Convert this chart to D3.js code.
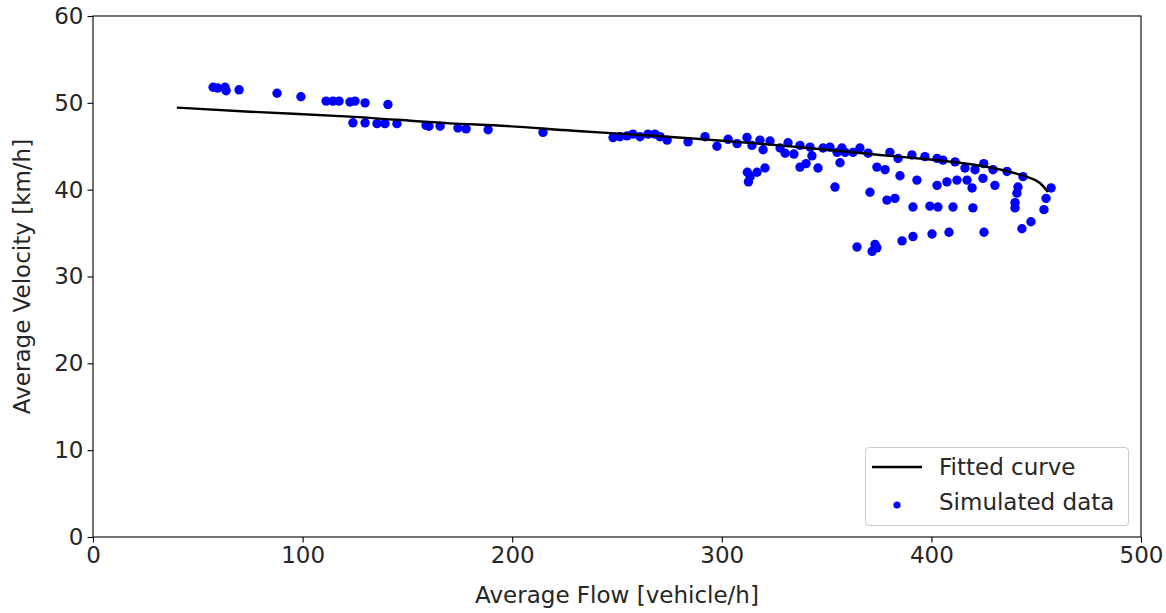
<!DOCTYPE html>
<html>
<head>
<meta charset="utf-8">
<script src="https://cdn.jsdelivr.net/npm/d3@7"></script>
<style>
  body { margin: 0; background: #fff; }
  svg { display: block; font-family: "DejaVu Sans", sans-serif; }
</style>
</head>
<body>
<svg id="chart" width="1166" height="613"></svg>
<script>
// ---- data ----
const xTicks = [0, 100, 200, 300, 400, 500];
const yTicks = [0, 10, 20, 30, 40, 50, 60];
const xLabel = "Average Flow [vehicle/h]";
const yLabel = "Average Velocity [km/h]";
const legendLabels = ["Fitted curve", "Simulated data"];

// fitted curve
const curveFlow = [40, 74.9, 122.6, 170.3, 197.4, 229, 261, 289.6, 327.8, 350, 375.5, 397.9, 415, 429.4, 437.5, 445.6, 451.8, 455.6];
const curveVel  = [49.45, 48.98, 48.41, 47.64, 47.33, 46.79, 46.30, 45.84, 45.1, 44.6, 44.0, 43.5, 43.05, 42.5, 42.05, 41.46, 40.77, 39.73];

// simulated data
const dataFlow = [
  57.3, 59.5, 63.0, 63.5, 69.7, 87.8, 99.2, 111.2, 114.5, 117.4, 122.6, 125.0, 129.8, 140.7,
  124.0, 129.8, 135.5, 139.3, 145.0, 158.9, 160.3, 165.6, 174.1, 178.0, 188.5, 214.7,
  248.1, 251.4, 254.8, 257.6, 261.0, 264.8, 268.1, 270.5, 273.9, 283.9, 292.0, 297.7, 303.0, 307.3,
  312.0, 314.4, 318.2, 319.7, 323.0, 327.8, 331.6, 330.2, 334.4, 337.3, 342.1, 343.0, 348.3, 351.6,
  355.0, 357.3, 358.8, 362.6, 365.9, 369.8, 380.2, 384.1, 390.7, 396.9, 402.7, 405.5, 411.3, 416.0,
  420.8, 425.0, 429.4, 436.1, 443.7,
  312.2, 313.5, 312.7, 316.8, 320.6, 337.3, 340.2, 345.9, 356.4, 374.0, 377.9, 385.0, 393.1, 402.7,
  407.4, 412.2, 417.0, 419.4, 424.6, 430.3, 441.3, 440.8, 457.1,
  354.0, 370.7, 378.8, 382.6, 391.2, 399.3, 403.1, 410.3, 419.8, 439.9, 439.9, 453.7, 454.7,
  364.5, 371.7, 373.1, 374.0, 386.0, 391.2, 400.3, 408.4, 425.1, 443.2, 447.5
];
const dataVel = [
  51.8, 51.7, 51.8, 51.4, 51.5, 51.1, 50.7, 50.2, 50.2, 50.2, 50.1, 50.2, 50.0, 49.8,
  47.7, 47.7, 47.6, 47.6, 47.6, 47.4, 47.3, 47.3, 47.1, 47.0, 46.9, 46.6,
  46.0, 46.1, 46.2, 46.4, 46.1, 46.4, 46.4, 46.1, 45.7, 45.5, 46.1, 45.0, 45.8, 45.3,
  46.0, 45.1, 45.7, 44.6, 45.6, 44.8, 45.4, 44.2, 44.1, 45.1, 44.9, 43.9, 44.8, 44.9,
  44.3, 44.8, 44.3, 44.3, 44.8, 44.2, 44.3, 43.6, 44.0, 43.8, 43.6, 43.4, 43.2, 42.5,
  42.3, 43.0, 42.3, 42.1, 41.5,
  42.0, 41.5, 40.9, 42.0, 42.5, 42.6, 43.0, 42.5, 43.1, 42.6, 42.3, 41.6, 41.1, 40.5,
  40.9, 41.1, 41.1, 40.2, 41.3, 40.5, 40.3, 39.6, 40.2,
  40.3, 39.7, 38.8, 39.0, 38.0, 38.1, 38.0, 38.0, 37.9, 38.5, 37.9, 37.7, 39.0,
  33.4, 32.9, 33.7, 33.3, 34.1, 34.6, 34.9, 35.1, 35.1, 35.5, 36.3
];

// ---- chart ----
(function () {
const svg = d3.select("#chart");
const mLeft = 93, mRight = 1141, mTop = 16, mBottom = 537;
const x = d3.scaleLinear().domain([0, 500]).range([mLeft, mRight]);
const y = d3.scaleLinear().domain([0, 60]).range([mBottom, mTop]);
const textColor = "#262626";
const fs = 23;

// scatter
const pts = dataFlow.map((f, i) => ({f, v: dataVel[i]}));
svg.append("g").selectAll("circle").data(pts).join("circle")
  .attr("cx", d => x(d.f)).attr("cy", d => y(d.v)).attr("r", 4.7)
  .attr("fill", "#0000ff");

// fitted curve
const cPts = curveFlow.map((f, i) => ({f, v: curveVel[i]}));
svg.append("path").datum(cPts)
  .attr("d", d3.line().x(d => x(d.f)).y(d => y(d.v)).curve(d3.curveMonotoneX))
  .attr("fill", "none").attr("stroke", "#000").attr("stroke-width", 2.4);

// frame
svg.append("rect").attr("x", mLeft).attr("y", mTop).attr("width", mRight - mLeft).attr("height", mBottom - mTop)
  .attr("fill", "none").attr("stroke", "#000").attr("stroke-width", 1.1);

// axes
const xAxis = svg.append("g").attr("transform", `translate(0,${mBottom})`)
  .call(d3.axisBottom(x).tickValues(xTicks).tickSize(5.5).tickPadding(4.5).tickFormat(d3.format("d")));
const yAxis = svg.append("g").attr("transform", `translate(${mLeft},0)`)
  .call(d3.axisLeft(y).tickValues(yTicks).tickSize(5.5).tickPadding(4).tickFormat(d3.format("d")));
[xAxis, yAxis].forEach(a => {
  a.select(".domain").remove();
  a.selectAll("line").attr("stroke", "#000").attr("stroke-width", 1.1);
  a.selectAll("text").attr("font-size", fs).attr("fill", textColor)
    .attr("font-family", "DejaVu Sans, sans-serif");
});

// axis labels
svg.append("text").attr("x", (mLeft + mRight) / 2).attr("y", 603).attr("text-anchor", "middle")
  .attr("font-size", fs).attr("fill", textColor).text(xLabel);
svg.append("text").attr("transform", `translate(30,${(mTop + mBottom) / 2}) rotate(-90)`)
  .attr("text-anchor", "middle")
  .attr("font-size", fs).attr("fill", textColor).text(yLabel);

// legend
const lg = svg.append("g");
lg.append("rect").attr("x", 865.5).attr("y", 447.5).attr("width", 263).attr("height", 78).attr("rx", 3.5)
  .attr("fill", "#fff").attr("fill-opacity", 0.8).attr("stroke", "#cccccc").attr("stroke-width", 1);
lg.append("line").attr("x1", 872).attr("x2", 922).attr("y1", 467).attr("y2", 467)
  .attr("stroke", "#000").attr("stroke-width", 2.4);
lg.append("circle").attr("cx", 897).attr("cy", 505).attr("r", 3.6).attr("fill", "#0000ff");
lg.append("text").attr("x", 939).attr("y", 467).attr("dy", "0.35em").attr("font-size", fs)
  .attr("fill", textColor).text(legendLabels[0]);
lg.append("text").attr("x", 939).attr("y", 502).attr("dy", "0.35em").attr("font-size", fs)
  .attr("fill", textColor).text(legendLabels[1]);
})();
</script>
</body>
</html>
